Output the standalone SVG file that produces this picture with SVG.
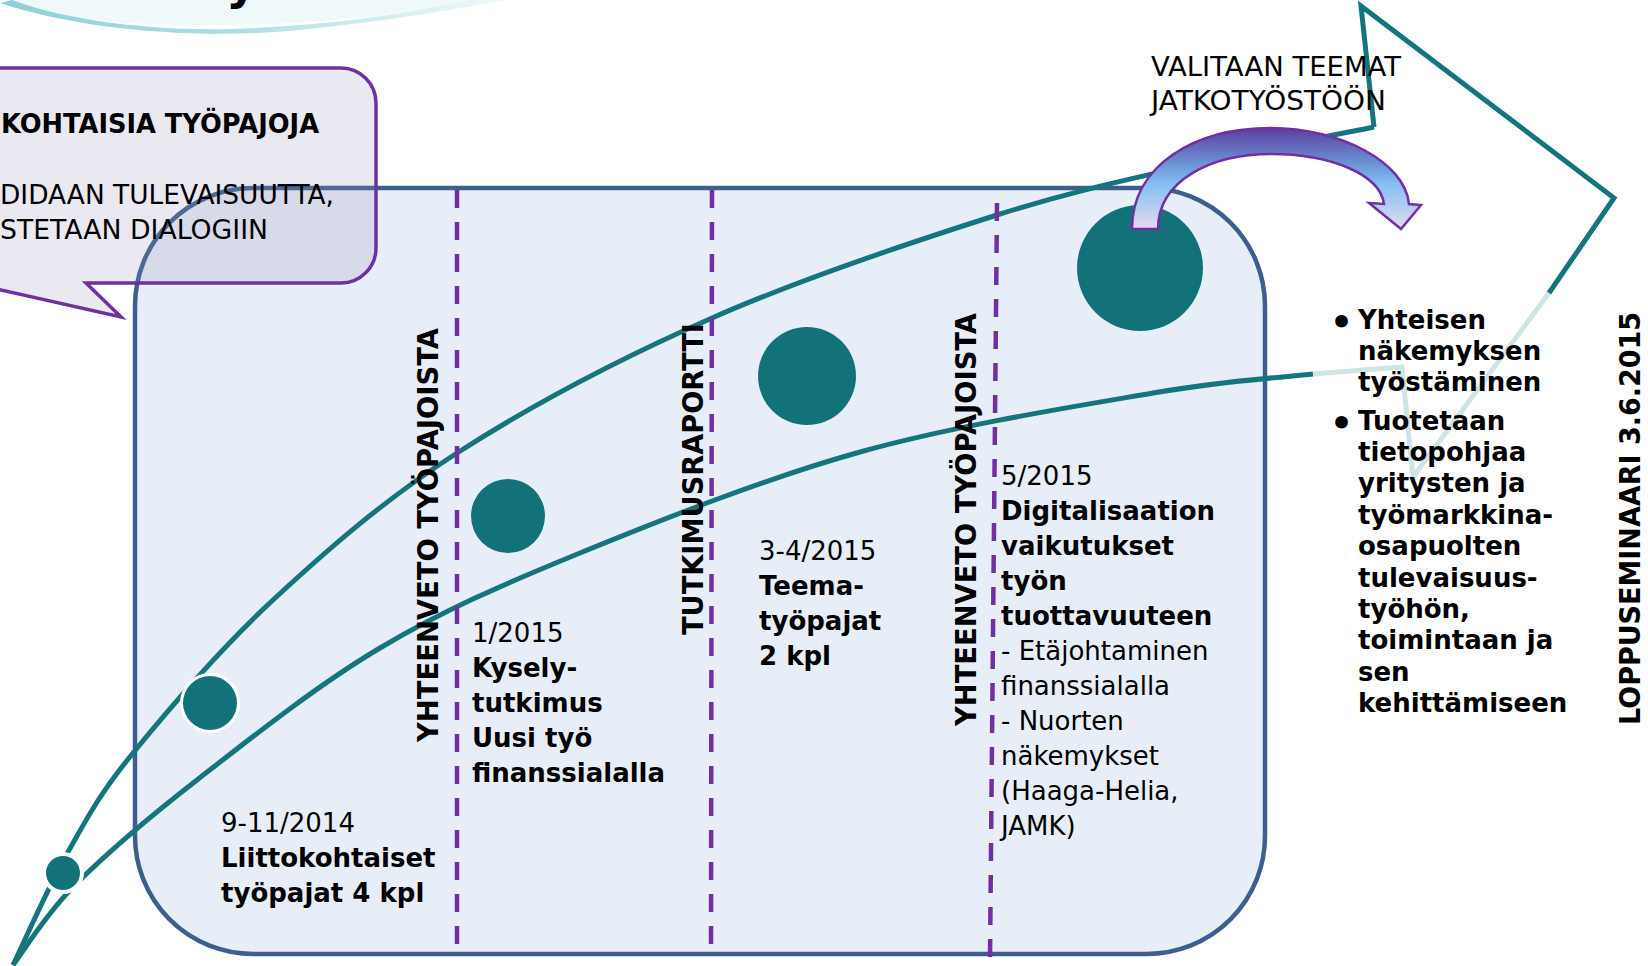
<svg xmlns="http://www.w3.org/2000/svg" width="1648" height="966" viewBox="0 0 1648 966">
<defs>
<style>
.t{font-family:'DejaVu Sans',Verdana,sans-serif;font-size:26px;fill:#000}
.b{font-weight:bold}
.rot{font-family:'DejaVu Sans',Verdana,sans-serif;font-weight:bold;font-size:29px;fill:#000}
.cap{font-family:'DejaVu Sans',Verdana,sans-serif;font-size:27px;fill:#000}
.teal{fill:none;stroke:#14767C;stroke-width:5;stroke-linejoin:miter}
.light{fill:none;stroke:#CFE4E5;stroke-width:5;stroke-linejoin:miter}
.div{fill:none;stroke:#7030A0;stroke-width:4.5;stroke-dasharray:18 14}
.dot{fill:#13717A}
.halo{fill:#FFFFFF}
.bul{font-family:'DejaVu Sans',Verdana,sans-serif;font-weight:bold;font-size:36px;fill:#000}
</style>
<linearGradient id="swoosh" x1="0" y1="0" x2="1" y2="0">
<stop offset="0" stop-color="#8ED0D6"/>
<stop offset="0.45" stop-color="#AEDDE1"/>
<stop offset="1" stop-color="#F2FAFB"/>
</linearGradient>
<linearGradient id="arrowGrad" x1="0" y1="128" x2="0" y2="229" gradientUnits="userSpaceOnUse">
<stop offset="0" stop-color="#5E3EA0"/>
<stop offset="0.35" stop-color="#6C92D4"/>
<stop offset="0.55" stop-color="#84BEF4"/>
<stop offset="1" stop-color="#E4DCEE"/>
</linearGradient>
</defs>

<g id="title-decor">
<path d="M0,0 C100,32 260,36 505,0 Z" fill="#EAF6F7" opacity="0.7"/>
<path d="M0,3 C80,30 200,40 300,30 C380,22 450,10 510,0 L470,0 C400,16 320,26 230,29 C140,31 60,18 12,0 Z" fill="url(#swoosh)"/>
<text class="b" x="226" y="-1" font-family="'DejaVu Sans',Verdana,sans-serif" font-size="48" fill="#000">y</text>
</g>

<g id="node-timeline-box">
<rect x="135" y="188" width="1130" height="766" rx="118" ry="118" fill="#E8EEF7" stroke="#3E5F8E" stroke-width="4.5"/>
</g>

<g id="connectors">
<path class="teal" d="M13,965 C22.2,946.2 48,887.3 68,852 C88,816.7 98.8,795 133,753 C167.2,711 219,650 273,600 C327,550 383.8,500 457,453 C530.2,406 622,357.7 712,318 C802,278.3 915.7,240.8 997,215 C1078.3,189.2 1137.2,177.7 1200,163 C1262.8,148.3 1345,133 1374,127"/>
<path class="teal" d="M13,965 C23.3,951.7 44.3,915.8 75,885 C105.7,854.2 146.2,819.5 197,780 C247.8,740.5 316.2,685.8 380,648 C443.8,610.2 500,585.7 580,553 C660,520.3 764.5,478.7 860,452 C955.5,425.3 1077.5,406 1153,393 C1228.5,380 1286.3,377.2 1313,374"/>
<path class="light" d="M1313,374 L1402,367 L1413,477 L1549,293"/>
<path class="teal" d="M1549,293 L1614,198 L1361,6 L1374,127"/>
</g>

<g id="dividers">
<line class="div" x1="457" y1="190" x2="457" y2="954"/>
<line class="div" x1="712" y1="190" x2="711" y2="956"/>
<line class="div" x1="997" y1="203" x2="990" y2="958"/>
</g>

<g id="node-m1">
<circle class="halo" cx="63" cy="873" r="21"/>
<circle class="dot" cx="63" cy="873" r="17"/>
</g>
<g id="node-m2">
<circle class="halo" cx="210" cy="703" r="30"/>
<circle class="dot" cx="210" cy="703" r="27"/>
<text class="t" x="221" y="832">9-11/2014</text>
<text class="t b" x="221" y="867">Liittokohtaiset</text>
<text class="t b" x="221" y="902">työpajat 4 kpl</text>
</g>
<g id="node-m3">
<circle class="dot" cx="508" cy="516" r="37"/>
<text class="t" x="472" y="642">1/2015</text>
<text class="t b" x="472" y="677">Kysely-</text>
<text class="t b" x="472" y="712">tutkimus</text>
<text class="t b" x="472" y="747">Uusi työ</text>
<text class="t b" x="472" y="782">finanssialalla</text>
</g>
<g id="node-m4">
<circle class="dot" cx="807" cy="376" r="49"/>
<text class="t" x="759" y="560">3-4/2015</text>
<text class="t b" x="759" y="595">Teema-</text>
<text class="t b" x="759" y="630">työpajat</text>
<text class="t b" x="759" y="665">2 kpl</text>
</g>
<g id="node-m5">
<circle class="dot" cx="1140" cy="268" r="63"/>
<text class="t" x="1001" y="485">5/2015</text>
<text class="t b" x="1001" y="520">Digitalisaation</text>
<text class="t b" x="1001" y="555">vaikutukset</text>
<text class="t b" x="1001" y="590">työn</text>
<text class="t b" x="1001" y="625">tuottavuuteen</text>
<text class="t" x="1001" y="660">- Etäjohtaminen</text>
<text class="t" x="1001" y="695">finanssialalla</text>
<text class="t" x="1001" y="730">- Nuorten</text>
<text class="t" x="1001" y="765">näkemykset</text>
<text class="t" x="1001" y="800">(Haaga-Helia,</text>
<text class="t" x="1001" y="835">JAMK)</text>
</g>

<g id="node-gate1">
<text class="rot" transform="translate(438,742) rotate(-90)" textLength="414" lengthAdjust="spacingAndGlyphs">YHTEENVETO TYÖPAJOISTA</text>
</g>
<g id="node-gate2">
<text class="rot" transform="translate(703,635) rotate(-90)" textLength="312" lengthAdjust="spacingAndGlyphs">TUTKIMUSRAPORTTI</text>
</g>
<g id="node-gate3">
<text class="rot" transform="translate(976,726) rotate(-90)" textLength="413" lengthAdjust="spacingAndGlyphs">YHTEENVETO TYÖPAJOISTA</text>
</g>

<g id="node-themes">
<path d="M1132,229 C1132,165 1195,128 1271,128 C1340,128 1405,162 1409,204 L1421,205 L1401,229 L1369,203 L1384,204 C1380,174 1330,154 1271,154 C1212,154 1158,180 1158,229 Z" fill="url(#arrowGrad)" stroke="#7030A0" stroke-width="2.5" stroke-linejoin="miter"/>
<text class="cap" x="1151" y="76" textLength="250" lengthAdjust="spacingAndGlyphs">VALITAAN TEEMAT</text>
<text class="cap" x="1151" y="110" textLength="235" lengthAdjust="spacingAndGlyphs">JATKOTYÖSTÖÖN</text>
</g>

<g id="node-outcomes">
<text class="bul" x="1330" y="335">•</text>
<text class="t b" x="1358" y="329">Yhteisen</text>
<text class="t b" x="1358" y="360">näkemyksen</text>
<text class="t b" x="1358" y="391">työstäminen</text>
<text class="bul" x="1330" y="436">•</text>
<text class="t b" x="1358" y="430">Tuotetaan</text>
<text class="t b" x="1358" y="461">tietopohjaa</text>
<text class="t b" x="1358" y="492">yritysten ja</text>
<text class="t b" x="1358" y="524">työmarkkina-</text>
<text class="t b" x="1358" y="555">osapuolten</text>
<text class="t b" x="1358" y="587">tulevaisuus-</text>
<text class="t b" x="1358" y="618">työhön,</text>
<text class="t b" x="1358" y="649">toimintaan ja</text>
<text class="t b" x="1358" y="681">sen</text>
<text class="t b" x="1358" y="712">kehittämiseen</text>
</g>

<g id="node-final">
<text class="rot" transform="translate(1640,725) rotate(-90)" textLength="413" lengthAdjust="spacingAndGlyphs">LOPPUSEMINAARI 3.6.2015</text>
</g>

<g id="node-callout">
<path d="M-30,68 H341 A35,35 0 0 1 376,103 V248 A35,35 0 0 1 341,283 H86 L121,317 L-30,283 Z" fill="#968AB4" fill-opacity="0.2" stroke="#7030A0" stroke-width="3.5" stroke-linejoin="miter"/>
<text class="t b" x="1" y="133" font-size="25.5" textLength="318" lengthAdjust="spacingAndGlyphs">KOHTAISIA TYÖPAJOJA</text>
<text class="cap" x="0" y="204" textLength="334" lengthAdjust="spacingAndGlyphs">DIDAAN TULEVAISUUTTA,</text>
<text class="cap" x="0" y="239" textLength="268" lengthAdjust="spacingAndGlyphs">STETAAN DIALOGIIN</text>
</g>
</svg>
